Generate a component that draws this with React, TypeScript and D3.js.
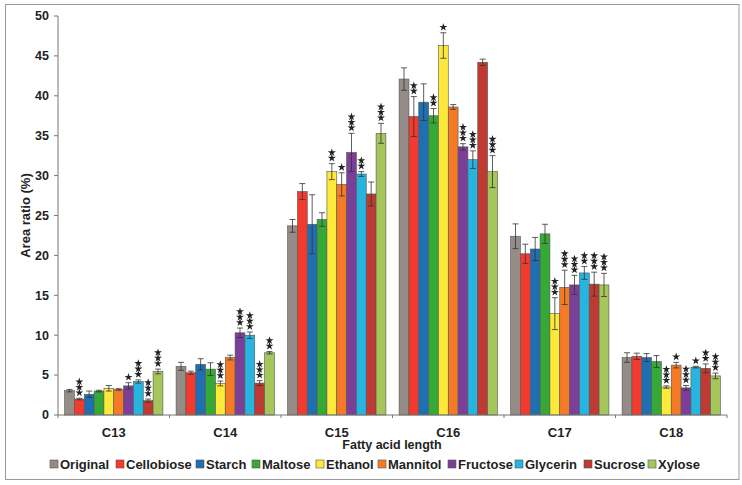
import React from "react";
import * as d3 from "d3";

const categories = ["C13", "C14", "C15", "C16", "C17", "C18"];
const seriesNames = ["Original", "Cellobiose", "Starch", "Maltose", "Ethanol", "Mannitol", "Fructose", "Glycerin", "Sucrose", "Xylose"];
const seriesColors = ["#958b87", "#f23a2e", "#1f6fb2", "#35a835", "#fde93a", "#f57a25", "#7b3f98", "#27b4df", "#be3a32", "#a5c65a"];

const values = [
  [3.05, 6.1, 23.7, 42.1, 22.4, 7.2],
  [2.0, 5.3, 28.0, 37.4, 20.2, 7.35],
  [2.6, 6.35, 23.9, 39.2, 20.8, 7.2],
  [3.0, 5.75, 24.5, 37.5, 22.7, 6.7],
  [3.35, 3.95, 30.5, 46.3, 12.7, 3.5],
  [3.2, 7.2, 28.9, 38.6, 16.0, 6.25],
  [3.65, 10.3, 32.9, 33.6, 16.3, 3.4],
  [4.2, 10.0, 30.2, 32.0, 17.8, 6.0],
  [1.8, 4.0, 27.7, 44.2, 16.4, 5.85],
  [5.45, 7.8, 35.3, 30.5, 16.3, 4.9],
];

const errors = [
  [0.15, 0.5, 0.8, 1.4, 1.55, 0.6],
  [0.1, 0.2, 1.0, 2.5, 1.2, 0.4],
  [0.4, 0.7, 3.7, 2.3, 1.45, 0.5],
  [0.1, 0.8, 0.85, 0.9, 1.2, 0.75],
  [0.35, 0.3, 1.0, 1.6, 2.0, 0.15],
  [0.1, 0.3, 1.45, 0.3, 2.15, 0.35],
  [0.4, 0.6, 2.4, 0.4, 1.2, 0.3],
  [0.2, 0.4, 0.3, 1.1, 0.8, 0.1],
  [0.2, 0.3, 1.5, 0.4, 1.5, 0.55],
  [0.3, 0.15, 1.25, 2.0, 1.45, 0.35],
];

const stars = [
  [0, 0, 0, 0, 0, 0],
  [3, 0, 0, 2, 0, 0],
  [0, 0, 0, 0, 0, 0],
  [0, 0, 0, 2, 0, 0],
  [0, 3, 2, 1, 3, 3],
  [0, 0, 1, 0, 3, 1],
  [1, 3, 3, 3, 3, 3],
  [3, 3, 2, 3, 2, 1],
  [3, 3, 0, 0, 3, 2],
  [3, 2, 3, 3, 3, 3],
];

const yTicks = [0, 5, 10, 15, 20, 25, 30, 35, 40, 45, 50];

export default function App() {
  const W = 742, H = 485;
  const left = 58, right = 727, top = 16, bottom = 415;
  const x0 = d3.scaleBand<string>().domain(categories).range([left, right]).paddingInner(0).paddingOuter(0);
  const x1 = d3.scaleBand<string>().domain(seriesNames).range([0, x0.bandwidth()]).paddingInner(0).paddingOuter(0.67);
  const y = d3.scaleLinear().domain([0, 50]).range([bottom, top]);
  const starPath = d3.symbol().type(d3.symbolStar).size(20)() as string;
  const font = "Arial, 'Liberation Sans', sans-serif";
  const bw = x1.bandwidth();

  const legendX = [50, 116, 196, 252, 316, 378, 448, 515, 584, 648];

  return (
    <svg width={W} height={H} style={{ position: "absolute", left: 0, top: 0 }} fontFamily={font}>
      <rect x={0} y={0} width={W} height={H} fill="#fff" />
      <rect x={5.5} y={4.5} width={733.5} height={475} fill="#fff" stroke="#9a9a9a" strokeWidth={1} />
      {seriesNames.map((s, si) =>
        categories.map((c, ci) => {
          const v = values[si][ci];
          const e = errors[si][ci];
          const bx = (x0(c) as number) + (x1(s) as number);
          const cx = bx + bw / 2;
          const yTop = y(v + e);
          const n = stars[si][ci];
          return (
            <g key={s + c}>
              <rect x={bx} y={y(v)} width={bw} height={bottom - y(v)} fill={seriesColors[si]} stroke="#555" strokeWidth={0.6} />
              <line x1={cx} x2={cx} y1={y(v + e)} y2={y(v - e)} stroke="#333" strokeWidth={0.8} />
              <line x1={cx - 3} x2={cx + 3} y1={y(v + e)} y2={y(v + e)} stroke="#333" strokeWidth={0.8} />
              <line x1={cx - 3} x2={cx + 3} y1={y(v - e)} y2={y(v - e)} stroke="#333" strokeWidth={0.8} />
              {d3.range(n).map((k) => (
                <path key={k} d={starPath} transform={`translate(${cx},${yTop - 5.5 - k * 5.5})`} fill="#222" />
              ))}
            </g>
          );
        })
      )}
      <line x1={left} x2={left} y1={top} y2={bottom} stroke="#777" strokeWidth={1} />
      <line x1={left} x2={right} y1={bottom} y2={bottom} stroke="#777" strokeWidth={1} />
      {yTicks.map((t) => (
        <g key={t}>
          <line x1={left - 4} x2={left} y1={y(t)} y2={y(t)} stroke="#777" />
          <text x={left - 9} y={y(t)} dy="0.35em" textAnchor="end" fontSize={12.5} fontWeight="bold" fill="#222">{t}</text>
        </g>
      ))}
      {categories.map((c) => (
        <g key={c}>
          <line x1={(x0(c) as number) + x0.bandwidth()} x2={(x0(c) as number) + x0.bandwidth()} y1={bottom} y2={bottom + 3} stroke="#777" />
          <text x={(x0(c) as number) + x0.bandwidth() / 2} y={437} textAnchor="middle" fontSize={13} fontWeight="bold" fill="#222">{c}</text>
        </g>
      ))}
      <line x1={left} x2={left} y1={bottom} y2={bottom + 3} stroke="#777" />
      <text x={392} y={449} textAnchor="middle" fontSize={12.5} fontWeight="bold" fill="#222">Fatty acid length</text>
      <text transform={`translate(30,${(top + bottom) / 2}) rotate(-90)`} textAnchor="middle" fontSize={13} fontWeight="bold" fill="#222">Area ratio (%)</text>
      {seriesNames.map((s, si) => (
        <g key={s} transform={`translate(${legendX[si]},469)`}>
          <rect x={0} y={-9} width={8} height={8} fill={seriesColors[si]} stroke="#555" strokeWidth={0.6} />
          <text x={10} y={0} fontSize={13} fontWeight="bold" fill="#222">{s}</text>
        </g>
      ))}
    </svg>
  );
}
